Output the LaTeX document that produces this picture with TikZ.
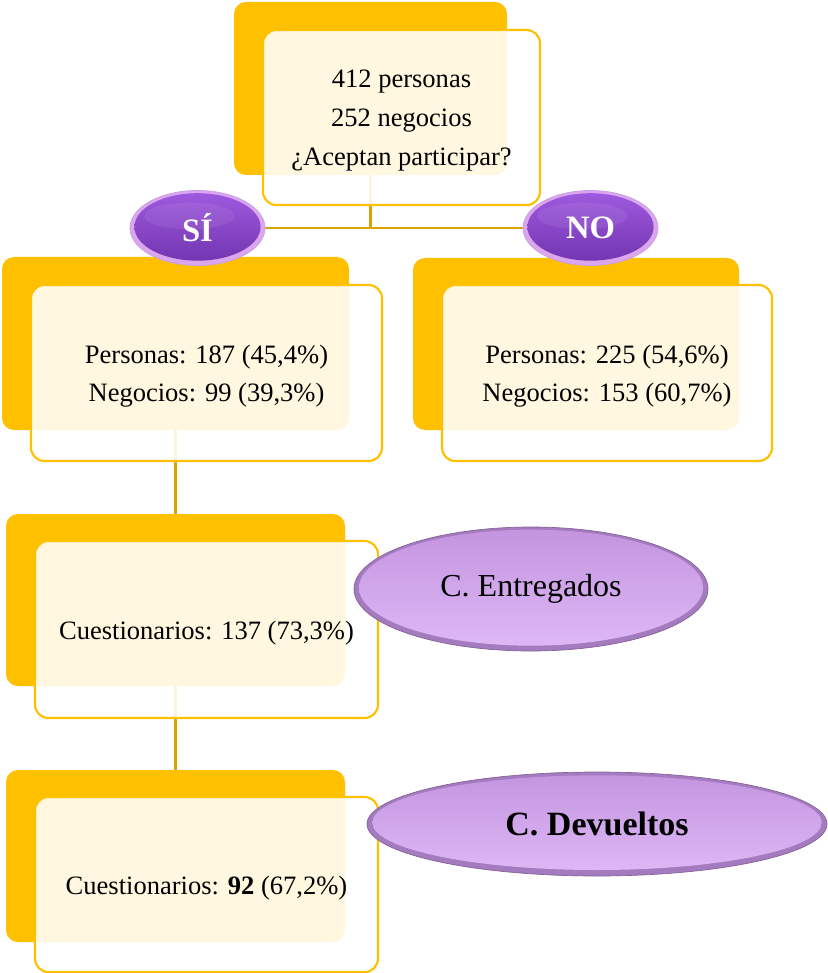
\documentclass[tikz,border=0pt]{standalone}
\usepackage{fontspec}
\setmainfont{Liberation Serif}
\usetikzlibrary{shapes.geometric}
\pgfdeclarelayer{background}
\pgfsetlayers{background,main}

\definecolor{gold}{HTML}{FFC000}
\definecolor{linegold}{HTML}{D9A300}
\definecolor{rimpink}{HTML}{DCA6EE}
\definecolor{violetA}{HTML}{A05BE0}
\definecolor{violetB}{HTML}{8A46CA}
\definecolor{violetC}{HTML}{7033AE}
\definecolor{lilacRim}{HTML}{A47BBE}
\definecolor{lilacA}{HTML}{C394DF}
\definecolor{lilacB}{HTML}{CFA3EE}
\definecolor{lilacC}{HTML}{DFB9F7}

\tikzset{
  backbox/.style 2 args={fill=gold, rounded corners=9pt, minimum width=#1,
    minimum height=#2, inner sep=0pt},
  frontbox/.style 2 args={draw=gold, line width=1.6pt, fill=white,
    fill opacity=0.88, rounded corners=10pt,
    minimum width=#1, minimum height=#2, inner sep=0pt},
  boxtext/.style={align=center, inner sep=0pt,
    font=\fontsize{19.9}{29}\selectfont},
  link/.style={draw=linegold, line width=2pt},
  darkpill/.style={ellipse, fill=rimpink, draw=violetB!50, line width=0.6pt,
    minimum width=101.25pt, minimum height=56.25pt, inner sep=0pt,
    text=white, font=\fontsize{24.5}{28}\selectfont\bfseries,
    path picture={
      \shade[top color=violetA, middle color=violetB, bottom color=violetC]
        ([yshift=0.8pt]path picture bounding box.center)
        ellipse [x radius=47.3pt, y radius=25.3pt];
      \fill[white, opacity=0.07]
        ([xshift=-6pt, yshift=9pt]path picture bounding box.center)
        ellipse [x radius=34pt, y radius=10pt];
    }},
  lightpill/.style n args={4}{ellipse, fill=lilacRim, draw=lilacRim!80!black,
    line width=0.5pt, minimum width=#1, minimum height=#2, inner sep=0pt,
    path picture={
      \shade[top color=lilacA, middle color=lilacB, bottom color=lilacC]
        ([yshift=1pt]path picture bounding box.center)
        ellipse [x radius=#3, y radius=#4];
    }},
}

\begin{document}
\begin{tikzpicture}[x=0.75pt, y=-0.75pt]
\useasboundingbox (0,0) rectangle (827,973);

% back panels
\node[backbox={204.75pt}{129.75pt}] (topback) at (370.5,88.5) {};
\node[backbox={260.25pt}{129.75pt}] (sib) at (175.5,343.5) {};
\node[backbox={244.5pt}{129pt}] (nob) at (576,344) {};
\node[backbox={254.25pt}{129pt}] (cb) at (175.5,600) {};
\node[backbox={254.25pt}{129pt}] (db) at (175.5,856) {};

% front panels
\node[frontbox={207.75pt}{131.25pt}] (top) at (401.5,117.5) {};
\node[frontbox={263.25pt}{132pt}] (sif) at (206.5,373) {};
\node[frontbox={247.5pt}{132pt}] (nof) at (607,373) {};
\node[frontbox={257.25pt}{132.75pt}] (cf) at (206.5,629.5) {};
\node[frontbox={257.25pt}{131.25pt}] (df) at (206.5,884.5) {};

% figures inside the panels
\node[boxtext, font=\fontsize{19.9}{29.25}\selectfont] (toptext)
  at ([yshift=-2.4pt]top.center) {412 personas\\252 negocios\\¿Aceptan participar?};
\node[boxtext] (sitext) at ([yshift=-2.4pt]sif.center)
  {Personas: 187 (45,4\%)\\Negocios: 99 (39,3\%)};
\node[boxtext] (notext) at ([yshift=-2.4pt]nof.center)
  {Personas: 225 (54,6\%)\\Negocios: 153 (60,7\%)};
\node[boxtext] (ctext) at ([yshift=-2.4pt]cf.center)
  {Cuestionarios: 137 (73,3\%)};
\node[boxtext] (dtext) at ([yshift=-2.4pt]df.center)
  {Cuestionarios: \textbf{92} (67,2\%)};

% answer labels
\node[darkpill] (si) at (197.5,228) {SÍ};
\node[darkpill] (no) at (590.5,228) {NO};

\node[lightpill={265.5pt}{93pt}{129pt}{43.5pt},
  font=\fontsize{24}{28}\selectfont] (ent) at (531,589) {C. Entregados};
\node[lightpill={345pt}{78pt}{168.5pt}{35.5pt},
  font=\fontsize{25.5}{30}\selectfont\bfseries] (dev) at (597,824) {C. Devueltos};

% connectors
\begin{pgfonlayer}{background}
  \draw[link] (topback.south) |- (si);
  \draw[link] (topback.south) |- (no);
  \draw[link] (sib.south) -- (cb.north);
  \draw[link] (cb.south) -- (db.north);
\end{pgfonlayer}
\end{tikzpicture}
\end{document}
